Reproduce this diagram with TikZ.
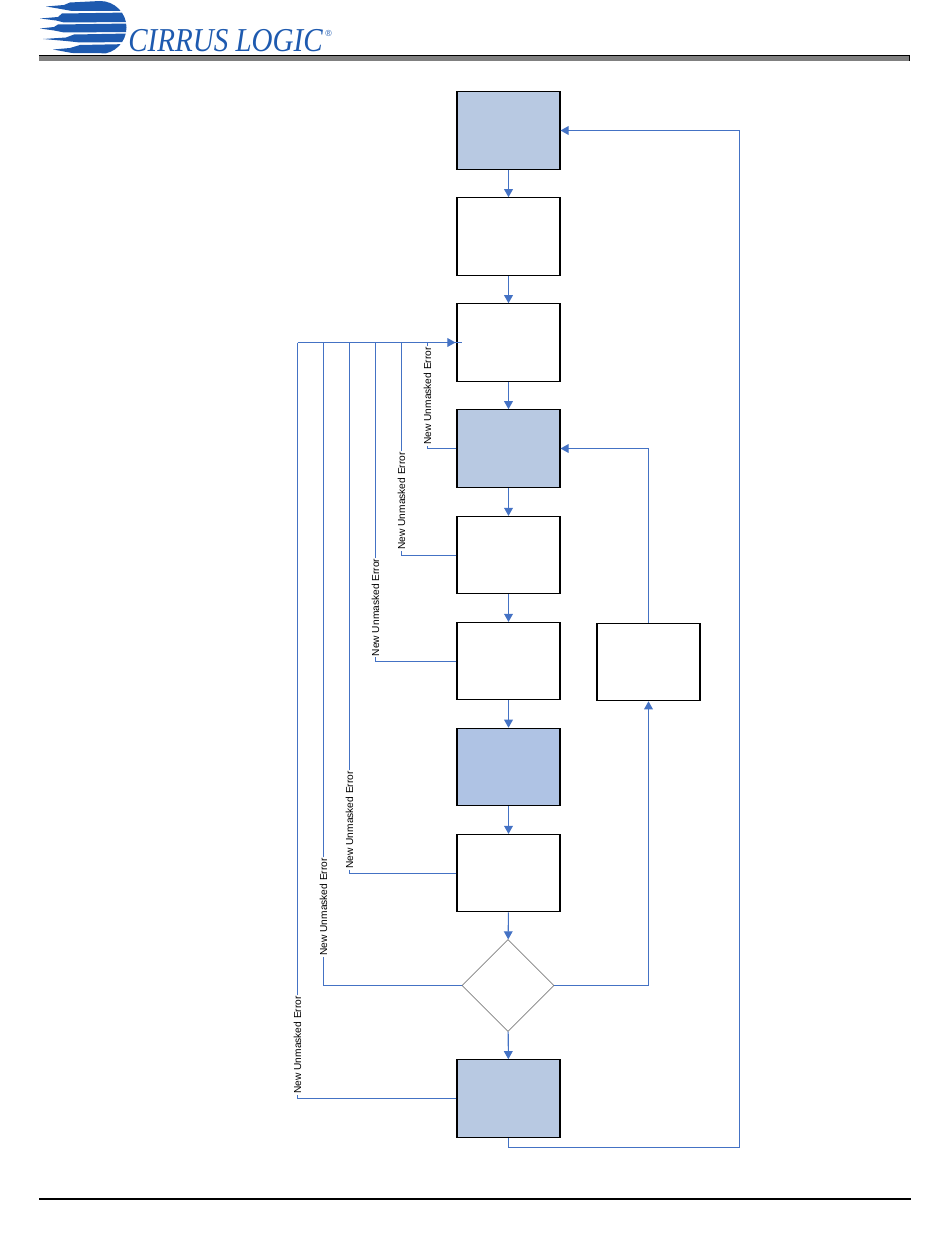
\documentclass[tikz,border=0pt]{standalone}
\usepackage{fontspec}
\setmainfont{Liberation Sans}
\newfontfamily\logofont{Liberation Serif}
\usetikzlibrary{calc,shapes.geometric,arrows.meta}
\definecolor{flowblue}{RGB}{68,114,196}
\definecolor{boxblue}{RGB}{184,201,226}
\definecolor{boxbluedk}{RGB}{175,195,228}
\definecolor{logoblue}{RGB}{30,90,175}
\tikzset{
  stepbox/.style={draw=black, line width=0.6pt, fill=white, minimum width=2.06cm, minimum height=1.55cm, inner sep=0pt},
  flow/.style={draw=flowblue, line width=0.6pt},
  flowarrow/.style={flow, -{Triangle[length=4.6pt,width=5pt]}},
  errlabel/.style={rotate=90, inner sep=0.4pt, font=\fontsize{5.8pt}{7pt}\selectfont}
}
\begin{document}
\begin{tikzpicture}[x=0.02cm, y=-0.02cm]
   \useasboundingbox (0,0) rectangle (950,1260);
   % logo
   \begin{scope}
      \clip (30,1) -- (100,1) arc (90:-90:26.5 and -26.5) -- (30,54) -- cycle;
      \fill[logoblue] (46,6.5) -- (64,5) -- (70,2.5) -- (100,1) -- (130,1) -- (130,11) -- (72,11) -- (58,8.5) -- cycle;
      \fill[logoblue] (40,18.5) -- (58,17) -- (62,13.5) -- (130,12.5) -- (130,22) -- (64,22.5) -- (56,20.5) -- cycle;
      \fill[logoblue] (40,28.5) -- (54,27) -- (58,24.5) -- (130,23.5) -- (130,32) -- (64,32.5) -- (54,30.5) -- cycle;
      \fill[logoblue] (43,39) -- (66,37.5) -- (74,34.5) -- (130,33.5) -- (130,42) -- (80,42.5) -- (66,41) -- cycle;
      \fill[logoblue] (53,49.5) -- (70,48) -- (80,45) -- (130,44) -- (130,53.5) -- (72,53) -- cycle;
   \end{scope}
   \node[anchor=base west, inner sep=0pt, xscale=0.87, text=logoblue, font=\logofont\itshape\fontsize{19pt}{19pt}\selectfont] (logo) at (128,52) {CIRRUS LOGIC};
   \node[anchor=west, inner sep=0pt, text=logoblue, font=\fontsize{5pt}{5pt}\selectfont] (reg) at (325,33) {®};
   % page rules
   \fill[gray] (39,55) rectangle (910,61);
   \draw[black, line width=0.7pt] (39,55.5) -- (909.5,55.5) -- (909.5,61);
   \draw[black, line width=1.4pt] (39,1199) -- (911,1199);
   % boxes
   \node[stepbox, fill=boxblue] (start) at (508.5,130.5) {};
   \node[stepbox] (boot) at (508.5,236.5) {};
   \node[stepbox] (init) at (508.5,342.5) {};
   \node[stepbox, fill=boxblue] (idle) at (508.5,448.5) {};
   \node[stepbox] (load) at (508.5,555.2) {};
   \node[stepbox] (cfg) at (508.5,661.2) {};
   \node[stepbox, fill=boxbluedk] (ready) at (508.5,767) {};
   \node[stepbox] (run) at (508.5,873.2) {};
   \node[draw=gray, line width=0.4pt, fill=white, diamond, minimum width=1.84cm, minimum height=1.84cm, inner sep=0pt] (check) at (508,985.5) {};
   \node[stepbox, fill=boxblue] (stop) at (508.5,1098.5) {};
   \node[stepbox] (retry) at (648.5,662) {};
   % main column
   \draw[flowarrow] (start) -- (boot);
   \draw[flowarrow] (boot) -- (init);
   \draw[flowarrow] (init) -- (idle);
   \draw[flowarrow] (idle) -- (load);
   \draw[flowarrow] (load) -- (cfg);
   \draw[flowarrow] (cfg) -- (ready);
   \draw[flowarrow] (ready) -- (run);
   \draw[flowarrow] (run) -- (check);
   \draw[flowarrow] (check) -- (stop);
   % loops on the right
   \draw[flowarrow] (check.east) -| (retry.south);
   \draw[flowarrow] (retry.north) |- (idle.east);
   \coordinate (outer) at (739.5,1147.2);
   \draw[flowarrow] (stop.south) |- (outer) |- (start.east);
   % error bus
   \coordinate (bus) at (297.5,342.5);
   \coordinate (entry) at ($(init.west)+(6,0)$);
   \draw[flow] (bus) -- (entry);
   \draw[flowarrow] (bus) -- ($(init.west)+(-1,0)$);
   \foreach \src/\xx/\ylab/\nm in {idle.west/427.5/396/laba, load.west/401.5/501/labb, cfg.west/375.5/607.5/labc, run.west/349.5/820/labd, check.west/323.5/907/labe, stop.west/297.5/1045/labf} {
      \node[errlabel] (\nm) at (\xx,\ylab) {New Unmasked Error};
      \draw[flow] (\src) -| (\nm.west);
      \draw[flow] (\nm.east) -- (\xx,342.5);
   }
\end{tikzpicture}
\end{document}
